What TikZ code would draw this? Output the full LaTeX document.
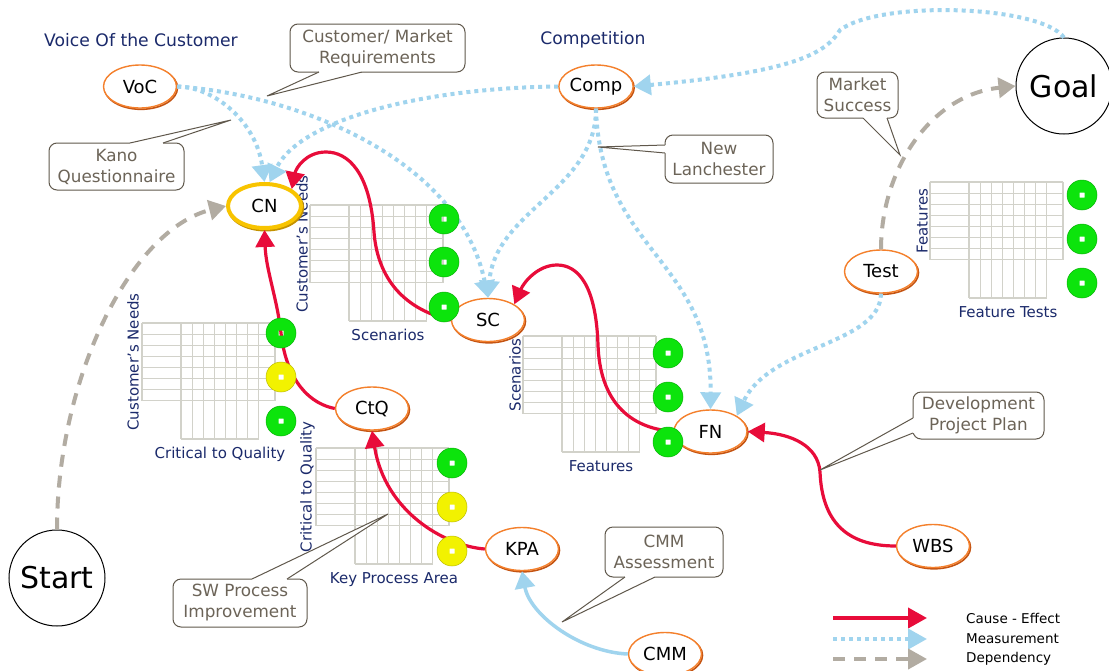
\documentclass[tikz,border=0pt]{standalone}
\usepackage{fontspec}
\setmainfont{DejaVu Sans}
\usetikzlibrary{arrows.meta,shapes.geometric,calc}
\definecolor{redC}{RGB}{232,12,58}
\definecolor{blueC}{RGB}{160,212,238}
\definecolor{greyC}{RGB}{178,172,162}
\definecolor{orangeC}{RGB}{244,128,44}
\definecolor{orangeD}{RGB}{196,84,18}
\definecolor{goldC}{RGB}{248,196,0}
\definecolor{goldD}{RGB}{196,146,0}
\definecolor{navyC}{RGB}{27,42,107}
\definecolor{calloutC}{RGB}{96,88,76}
\definecolor{calloutT}{RGB}{108,100,88}
\definecolor{gridC}{RGB}{210,210,202}
\definecolor{greenC}{RGB}{12,228,12}
\definecolor{yellowC}{RGB}{242,242,0}
\tikzset{
  ell/.style={ellipse, draw=orangeC, line width=1.4pt, fill=white, minimum width=73pt, minimum height=43pt, inner sep=0pt, font=\fontsize{18}{20}\selectfont,
    preaction={draw=orangeD, line width=1.6pt, transform canvas={xshift=1pt,yshift=-1.3pt}}},
  cnell/.style={ellipse, draw=goldC, line width=4pt, fill=white, minimum width=73pt, minimum height=44pt, inner sep=0pt, font=\fontsize{18}{20}\selectfont,
    preaction={draw=goldD, line width=4pt, transform canvas={xshift=1.2pt,yshift=-1.5pt}}},
  bigc/.style={circle, draw=black, line width=1pt, fill=white, minimum size=96pt, inner sep=0pt, font=\fontsize{30}{32}\selectfont},
  title/.style={text=navyC, font=\fontsize{17.2}{19}\selectfont, inner sep=0pt},
  mlabel/.style={text=navyC, font=\fontsize{15}{17}\selectfont, inner sep=0pt},
  callout/.style={draw=calloutC, line width=1pt, fill=white, rounded corners=8pt, text=calloutT, align=center, inner sep=0pt, font=\fontsize{16.8}{21}\selectfont},
  calloutline/.style={draw=calloutC, line width=1pt},
  gridline/.style={draw=gridC, line width=1.1pt},
  cause/.style={draw=redC, line width=3.2pt, -{Triangle[length=17pt,width=19pt]}},
  meas/.style={draw=blueC, line width=4pt, dash pattern=on 4pt off 4pt, -{Triangle[length=17pt,width=20pt]}},
  meassolid/.style={draw=blueC, line width=3.5pt, -{Triangle[length=17pt,width=20pt]}},
  dep/.style={draw=greyC, line width=4pt, dash pattern=on 12pt off 9pt, -{Triangle[length=17pt,width=20pt]}},
  legtext/.style={text=black, font=\fontsize{13.5}{15}\selectfont, inner sep=0pt, anchor=west},
}
\newcommand\qgrid[2]{%
\begin{scope}[shift={(#1,#2)}]
\foreach \gi in {0,...,7}{\draw[gridline] (0,\gi*11.1) -- (133,\gi*11.1);}
\draw[gridline] (0,0) -- (0,77.7);
\draw[gridline] (133,0) -- (133,77.7);
\foreach \gj in {0,...,7}{\draw[gridline] (39+\gj*11.1,0) -- (39+\gj*11.1,116);}
\draw[gridline] (39,116) -- (116.7,116);
\end{scope}}
\newcommand\lampdot[4]{%
\begin{scope}[shift={(#2,#3)}]
\fill[#4, even odd rule] (0,0) circle[radius=15] (-2.5,-2.5) rectangle (2.5,2.5);
\draw[#4!78!black, line width=0.5pt] (0,0) circle[radius=15];
\end{scope}
\coordinate (#1) at (#2,#3);}
\newcommand\ptr[5]{%
\fill[white] ($#1+(#4,#5)$) -- #1 -- #3 -- #2 -- ($#2+(#4,#5)$) -- cycle;
\draw[calloutline] #1 -- #3 -- #2;}
\begin{document}
\begin{tikzpicture}[x=1pt,y=-1pt]
\useasboundingbox (0,0) rectangle (1109,670);
\fill[white] (0,0) rectangle (1109,670);

% matrices
\qgrid{310}{205}
\qgrid{142}{323}
\qgrid{316}{448}
\qgrid{523}{336}
\qgrid{930}{182}
\node[mlabel, rotate=90, anchor=south] (mA1) at (308,244) {Customer’s Needs};
\node[mlabel, anchor=base] (mA2) at (388,340) {Scenarios};
\node[mlabel, rotate=90, anchor=south] (mB1) at (139,362) {Customer’s Needs};
\node[mlabel, anchor=base] (mB2) at (220,458) {Critical to Quality};
\node[mlabel, rotate=90, anchor=south] (mC1) at (315,487) {Critical to Quality};
\node[mlabel, anchor=base] (mC2) at (394,583) {Key Process Area};
\node[mlabel, rotate=90, anchor=south] (mD1) at (521,375) {Scenarios};
\node[mlabel, anchor=base] (mD2) at (601,471) {Features};
\node[mlabel, rotate=90, anchor=south] (mE1) at (928,221) {Features};
\node[mlabel, anchor=base] (mE2) at (1008,317) {Feature Tests};

% titles
\node[title] (tVoC) at (141,40) {Voice Of the Customer};
\node[title] (tComp) at (593,40) {Competition};

% nodes
\node[ell] (VoC) at (140,86.5) {VoC};
\node[ell] (Comp) at (596,86.5) {Comp};
\node[cnell] (CN) at (264.5,206) {CN};
\node[ell] (SC) at (488,320) {SC};
\node[ell] (CtQ) at (372,408.5) {CtQ};
\node[ell] (FN) at (710.5,431.5) {FN};
\node[ell] (KPA) at (522,549) {KPA};
\node[ell] (Test) at (881,271.5) {Test};
\node[ell] (WBS) at (933,546) {WBS};
\node[ell] (CMM) at (665,654) {CMM};
\node[bigc] (Goal) at (1064,86) {Goal};
\node[bigc] (Start) at (57,578) {Start};

% cause - effect
\draw[cause] (CtQ.west) .. controls (302,402) and (285,370) .. (281,333) .. controls (277,298) and (266,270) .. (CN.south);
\draw[cause] (SC.west) .. controls (398,308) and (377,272) .. (374,232) .. controls (370,172) and (348,152) .. (326,152) .. controls (306,152) and (296,168) .. (CN.north east);
\draw[cause] (FN.west) .. controls (628,428) and (600,400) .. (598,345) .. controls (596,285) and (578,265) .. (557,265) .. controls (538,265) and (524,282) .. (SC.north east);
\draw[cause] (KPA.west) .. controls (445,546) and (385,512) .. (CtQ.south);
\draw[cause] (WBS.west) .. controls (845,546) and (822,520) .. (820,472) .. controls (818,445) and (790,434) .. (FN.east);

% measurement
\draw[meas] (VoC.east) .. controls (215,87) and (256,122) .. (CN.north);
\draw[meas] (VoC.east) .. controls (300,95) and (460,160) .. (SC.north);
\draw[meas] (Comp.west) .. controls (420,88) and (300,120) .. (CN.78);
\draw[meas] (Comp.south) .. controls (596,190) and (495,210) .. (SC.north);
\draw[meas] (Comp.south) .. controls (600,250) and (712,260) .. (FN.north);
\draw[meas] (Test.south) .. controls (880,345) and (770,345) .. (FN.north east);
\draw[meas] (Goal.north) .. controls (1040,5) and (880,0) .. (840,30) .. controls (825,55) and (790,72) .. (Comp.east);
\draw[meassolid] (CMM.west) .. controls (580,652) and (530,615) .. (KPA.south);

% dependency
\draw[dep] (Start.north) .. controls (57,380) and (130,230) .. (CN.west);
\draw[dep] (Test.north) .. controls (881,170) and (930,95) .. (Goal.west);

% lamps
\lampdot{a1}{444}{219}{greenC}
\lampdot{a2}{444}{262}{greenC}
\lampdot{a3}{444}{307}{greenC}
\lampdot{b1}{281}{333}{greenC}
\lampdot{b2}{281}{377}{yellowC}
\lampdot{b3}{281}{421}{greenC}
\lampdot{c1}{452}{463}{greenC}
\lampdot{c2}{452}{507}{yellowC}
\lampdot{c3}{452}{551}{yellowC}
\lampdot{d1}{668}{353}{greenC}
\lampdot{d2}{668}{397}{greenC}
\lampdot{d3}{668}{442}{greenC}
\lampdot{e1}{1082}{195}{greenC}
\lampdot{e2}{1082}{239}{greenC}
\lampdot{e3}{1082}{283}{greenC}

% callouts
\node[callout, minimum width=175pt, minimum height=48pt] (cmr) at (377.5,48) {Customer/ Market\\Requirements};
\coordinate (cmrT) at (267,96);
\ptr{(319,72)}{(362,72)}{(cmrT)}{0}{-1.5}
\node[callout, minimum width=135pt, minimum height=47pt] (kano) at (116.5,166.5) {Kano\\Questionnaire};
\coordinate (kanoT) at (231,120);
\ptr{(130,143)}{(163,143)}{(kanoT)}{0}{1.5}
\node[callout, minimum width=108pt, minimum height=48pt] (lan) at (719,159) {New\\Lanchester};
\coordinate (lanT) at (598,147);
\ptr{(665,145)}{(665,153)}{(lanT)}{1.5}{0}
\node[callout, minimum width=81pt, minimum height=46pt] (msu) at (857.5,95) {Market\\Success};
\coordinate (msuT) at (900,155);
\ptr{(863,118)}{(887,118)}{(msuT)}{0}{-1.5}
\node[callout, minimum width=134pt, minimum height=48pt] (swp) at (240,603) {SW Process\\Improvement};
\coordinate (swpT) at (388,514);
\ptr{(252,579)}{(287,579)}{(swpT)}{0}{1.5}
\node[callout, minimum width=118pt, minimum height=50pt] (cmma) at (664,552) {CMM\\Assessment};
\coordinate (cmmaT) at (562,622);
\ptr{(625,577)}{(655,577)}{(cmmaT)}{0}{-1.5}
\node[callout, minimum width=131pt, minimum height=47pt] (dpp) at (978.5,415.5) {Development\\Project Plan};
\coordinate (dppT) at (820,470);
\ptr{(913,418)}{(913,433)}{(dppT)}{1.5}{0}

% legend
\coordinate (lg1a) at (833,618); \coordinate (lg1b) at (927,618);
\coordinate (lg2a) at (833,639); \coordinate (lg2b) at (927,639);
\coordinate (lg3a) at (833,659); \coordinate (lg3b) at (927,659);
\draw[cause, line width=4pt, -{Triangle[length=19pt,width=20pt]}] (lg1a) -- (lg1b);
\draw[meas, -{Triangle[length=19pt,width=20pt]}] (lg2a) -- (lg2b);
\draw[dep, -{Triangle[length=19pt,width=20pt]}] (lg3a) -- (lg3b);
\node[legtext] (lt1) at (966,618) {Cause - Effect};
\node[legtext] (lt2) at (966,639) {Measurement};
\node[legtext] (lt3) at (966,659) {Dependency};
\end{tikzpicture}
\end{document}
